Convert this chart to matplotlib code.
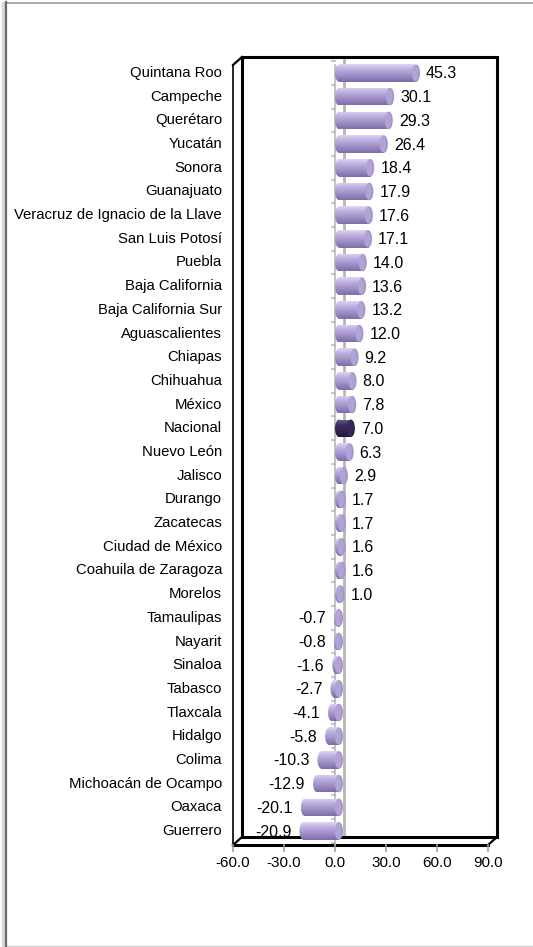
import numpy as np
import matplotlib
matplotlib.use("Agg")
import matplotlib.pyplot as plt
from matplotlib.patches import Rectangle, Ellipse
from matplotlib.lines import Line2D
from matplotlib.transforms import ScaledTranslation

plt.rcParams['font.family'] = ['Liberation Sans', 'DejaVu Sans']

# Data
states = ["Quintana Roo", "Campeche", "Querétaro", "Yucatán", "Sonora", "Guanajuato",
          "Veracruz de Ignacio de la Llave", "San Luis Potosí", "Puebla", "Baja California",
          "Baja California Sur", "Aguascalientes", "Chiapas", "Chihuahua", "México",
          "Nacional", "Nuevo León", "Jalisco", "Durango", "Zacatecas", "Ciudad de México",
          "Coahuila de Zaragoza", "Morelos", "Tamaulipas", "Nayarit", "Sinaloa", "Tabasco",
          "Tlaxcala", "Hidalgo", "Colima", "Michoacán de Ocampo", "Oaxaca", "Guerrero"]
values = [45.3, 30.1, 29.3, 26.4, 18.4, 17.9, 17.6, 17.1, 14.0, 13.6, 13.2, 12.0, 9.2,
          8.0, 7.8, 7.0, 6.3, 2.9, 1.7, 1.7, 1.6, 1.6, 1.0, -0.7, -0.8, -1.6, -2.7, -4.1,
          -5.8, -10.3, -12.9, -20.1, -20.9]
highlight = "Nacional"
xticks = [-60, -30, 0, 30, 60, 90]

W, H, DPI = 533, 947, 100
fig = plt.figure(figsize=(W / DPI, H / DPI), dpi=DPI)


def off(px_x, px_y):
    return ScaledTranslation(px_x / DPI, px_y / DPI, fig.dpi_scale_trans)


# outer chart frame
frame_ax = fig.add_axes([0, 0, 1, 1])
frame_ax.set_xlim(0, W)
frame_ax.set_ylim(H, 0)
frame_ax.axis('off')
frame_ax.add_line(Line2D([6, 533], [2.5, 2.5], color='#9a9a9a', lw=1.2))
frame_ax.add_line(Line2D([6, 533], [945.5, 945.5], color='#d0d0d0', lw=1.0))
frame_ax.add_line(Line2D([2.5, 2.5], [3, 947], color='#d8d8d8', lw=2.5))
frame_ax.add_line(Line2D([5.5, 5.5], [2, 947], color='#6a6a6a', lw=1.6))

# plotting axes: front plane spans x=-60..90 between px 233 and 488
px_left, px_right = 233, 488
px_top, px_bottom = 65, 845
n = len(states)
first_y, last_y = 73, 831
spacing = (last_y - first_y) / (n - 1)
ax = fig.add_axes([px_left / W, 1 - px_bottom / H,
                   (px_right - px_left) / W, (px_bottom - px_top) / H])
y0 = (px_bottom - first_y) / spacing
y1 = (px_top - first_y) / spacing
ax.set_xlim(-60, 90)
ax.set_ylim(y0, y1)
ax.axis('off')

dx, dy = 9, 8  # depth offset in px
back = ax.transData + off(dx, dy)


def add(line):
    line.set_clip_on(False)
    ax.add_line(line)


# zero gridline on back wall
add(Line2D([0, 0], [y0, y1], transform=back, color='#b5b5b5', lw=2.0))
# back wall
add(Line2D([-60, 90, 90, -60, -60], [y0, y0, y1, y1, y0], transform=back,
           color='black', lw=2.2, solid_joinstyle='miter'))
# left side wall front edge
add(Line2D([-60, -60], [y0, y1], color='black', lw=1.2))
# floor front edge
add(Line2D([-60, 90], [y0, y0], color='black', lw=2.2))
# depth edges
inv = fig.transFigure.inverted()
for xe, ye in ((-60, y0), (90, y0), (-60, y1)):
    p = inv.transform([ax.transData.transform((xe, ye)), back.transform((xe, ye))])
    add(Line2D(p[:, 0], p[:, 1], transform=fig.transFigure, color='black', lw=1.6))

# category axis line at zero with ticks
add(Line2D([0, 0], [y0, y1], color='#b8b8b8', lw=1.2))
for k in range(n + 1):
    yb = k - 0.5
    add(Line2D([-2.0, 0], [yb, yb], color='#b8b8b8', lw=1.2))

# value-axis ticks and labels
for t in xticks:
    p0 = ax.transData.transform((t, y0))
    p = inv.transform([p0, p0 - np.array([0, 6])])
    add(Line2D(p[:, 0], p[:, 1], transform=fig.transFigure, color='#a0a0a0', lw=1.2))
    ax.text(t, y0, f"{t:.1f}", ha='center', va='center', fontsize=11,
            color='black', clip_on=False, transform=ax.transData + off(0, -18))

# category labels
for i, s in enumerate(states):
    ax.text(-60, i, s, ha='right', va='center', fontsize=10.7, color='black',
            transform=ax.transData + off(-11, 0))

# cylinder bars
bar_h = 0.74
cap_w = 8 / ((px_right - px_left) / 150)  # cap ellipse width in data units


def gradient(base_light, base_mid, base_dark):
    c = [np.array(matplotlib.colors.to_rgb(x)) for x in (base_light, base_mid, base_dark)]
    t = np.linspace(0, 1, 64)
    out = np.zeros((64, 2, 3))
    for j, tt in enumerate(t):
        if tt < 0.35:
            f = tt / 0.35
            col = c[0] * (1 - f) + c[1] * f
        else:
            f = (tt - 0.35) / 0.65
            col = c[1] * (1 - f) + c[2] * f
        out[j, :, :] = col
    return out


light_grad = gradient('#ddd5f0', '#b7a8dd', '#7e6ea8')
dark_grad = gradient('#6b5a8e', '#3e2c62', '#22163a')

trans_bar = ax.transData + off(4, 0)
for i, (s, v) in enumerate(zip(states, values)):
    grad = dark_grad if s == highlight else light_grad
    face = '#2e2048' if s == highlight else '#a696cc'
    lo, hi = min(0, v), max(0, v)
    top, bot = i - bar_h / 2, i + bar_h / 2
    ext_lo, ext_hi = lo - cap_w / 2, hi + cap_w / 2
    body = Rectangle((lo, top), hi - lo, bar_h, transform=trans_bar)
    left_cap = Ellipse((lo, i), cap_w, bar_h, transform=trans_bar)
    for clip in (body, left_cap):
        im = ax.imshow(grad, extent=(ext_lo, ext_hi, bot, top), aspect='auto',
                       transform=trans_bar, interpolation='bilinear', zorder=3)
        im.set_clip_path(clip)
    # right end face
    ax.add_patch(Ellipse((hi, i), cap_w, bar_h, transform=trans_bar,
                         facecolor=face, edgecolor='none', zorder=4))
    ax.add_patch(Ellipse((hi - cap_w * 0.12, i), cap_w * 0.75, bar_h * 0.92,
                         transform=trans_bar, facecolor=grad[20, 0], alpha=0.6,
                         edgecolor='none', zorder=4))
    # value label
    lbl = f"{v:.1f}"
    if v >= 0:
        ax.text(hi, i, lbl, ha='left', va='center', fontsize=11.5,
                transform=trans_bar + off(10, -1), zorder=5)
    else:
        ax.text(lo, i, lbl, ha='right', va='center', fontsize=11.5,
                transform=trans_bar + off(-12, -1), zorder=5)

ax.set_xlim(-60, 90)
ax.set_ylim(y0, y1)
fig.savefig("out.png", dpi=DPI)
